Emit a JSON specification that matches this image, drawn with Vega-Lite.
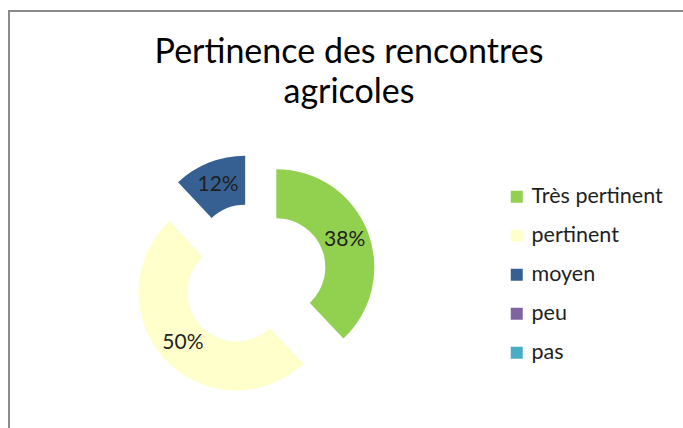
{
  "$schema": "https://vega.github.io/schema/vega-lite/v6.json",
  "width": 674,
  "height": 417,
  "autosize": {"type": "none"},
  "padding": {"left": 9, "top": 11, "right": 0, "bottom": 0},
  "background": "white",
  "config": {
    "view": {"stroke": "#8a8a8a", "strokeWidth": 2, "strokeDash": [674, 1091, 417]},
    "font": "Lato"
  },
  "title": {
    "text": ["Pertinence des rencontres", "agricoles"],
    "font": "Lato",
    "fontSize": 34,
    "fontWeight": "normal",
    "color": "#000000",
    "anchor": "middle",
    "offset": -99,
    "lineHeight": 40,
    "dx": 3
  },
  "data": {
    "values": [
      {"cat": "Très pertinent", "part": 0.38, "rang": 1},
      {"cat": "pertinent", "part": 0.50, "rang": 2},
      {"cat": "moyen", "part": 0.12, "rang": 3},
      {"cat": "peu", "part": 0, "rang": 4},
      {"cat": "pas", "part": 0, "rang": 5}
    ]
  },
  "transform": [
    {"window": [{"op": "sum", "field": "part", "as": "fin"}], "sort": [{"field": "rang"}], "frame": [null, 0]},
    {"calculate": "datum.fin - datum.part", "as": "debut"},
    {"calculate": "datum.fin - datum.part / 2", "as": "milieu"},
    {"calculate": "sin(2 * PI * datum.milieu)", "as": "ex"},
    {"calculate": "cos(2 * PI * datum.milieu)", "as": "ey"}
  ],
  "encoding": {
    "x": {"field": "ex", "type": "quantitative", "stack": null, "scale": {"domain": [-10.2083, 17.875], "nice": false, "zero": false}, "axis": null},
    "y": {"field": "ey", "type": "quantitative", "stack": null, "scale": {"domain": [-6.3333, 11.0417], "nice": false, "zero": false}, "axis": null}
  },
  "layer": [
    {
      "mark": {"type": "arc", "radius": 98, "innerRadius": 49},
      "encoding": {
        "theta": {"field": "debut", "type": "quantitative", "stack": null, "scale": {"domain": [0, 1]}},
        "theta2": {"field": "fin"},
        "color": {
          "field": "cat",
          "type": "nominal",
          "scale": {
            "domain": ["Très pertinent", "pertinent", "moyen", "peu", "pas"],
            "range": ["#92D050", "#FFFFCC", "#376092", "#8064A2", "#4BACC6"]
          },
          "legend": {
            "title": null,
            "orient": "none",
            "legendX": 497,
            "legendY": 175,
            "symbolType": "square",
            "symbolSize": 144,
            "symbolStrokeWidth": 0,
            "labelFont": "Lato",
            "labelFontSize": 21.5,
            "labelColor": "#1f1f1f",
            "labelOffset": 4,
            "labelLimit": 200,
            "rowPadding": 16,
            "padding": 0
          }
        }
      }
    },
    {
      "transform": [{"filter": "datum.part > 0"}],
      "mark": {"type": "text", "radius": 73.5, "font": "Lato", "fontSize": 21, "color": "#1f1f1f"},
      "encoding": {
        "theta": {"field": "milieu", "type": "quantitative", "stack": null, "scale": {"domain": [0, 1]}},
        "text": {"field": "part", "type": "quantitative", "format": ".0%"}
      }
    }
  ]
}
